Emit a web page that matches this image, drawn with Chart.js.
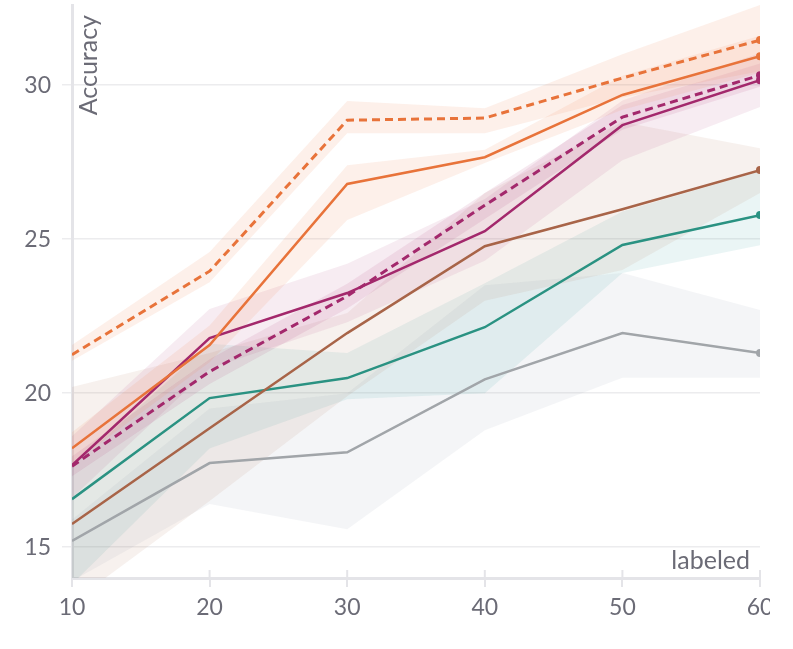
<!DOCTYPE html>
<html>
<head>
<meta charset="utf-8">
<script src="https://cdn.jsdelivr.net/npm/chart.js@4"></script>
<style>
  html, body { margin: 0; padding: 0; background: #fff; }
  #wrap { width: 770px; height: 649px; overflow: hidden; }
  #box { width: 793px; height: 649px; }
</style>
</head>
<body>
<div id="wrap"><div id="box"><canvas id="accChart"></canvas></div></div>
<script>
var labeled = [10, 20, 30, 40, 50, 60];
var yTicks = [15, 20, 25, 30];

// means
var orangeDash = [21.25, 23.96, 28.86, 28.93, 30.23, 31.46];
var orangeSolid = [18.21, 21.56, 26.79, 27.66, 29.68, 30.94];
var magentaSolid = [17.66, 21.79, 23.25, 25.26, 28.70, 30.16];
var magentaDash = [17.63, 20.70, 23.15, 26.10, 28.96, 30.32];
var brownSolid = [15.75, 18.86, 21.95, 24.77, 25.97, 27.24];
var tealSolid = [16.56, 19.84, 20.49, 22.14, 24.81, 25.78];
var graySolid = [15.20, 17.73, 18.08, 20.45, 21.95, 21.30];

// bands (lower / upper)
var orangeDashLo = [21.05, 23.60, 28.44, 28.44, 29.60, 30.45];
var orangeDashHi = [21.56, 24.58, 29.48, 29.25, 31.00, 32.60];
var orangeSolidLo = [17.70, 21.00, 25.62, 27.47, 29.20, 30.40];
var orangeSolidHi = [18.73, 22.20, 27.40, 27.90, 30.30, 31.60];
var magentaSolidLo = [16.60, 20.80, 22.30, 24.30, 27.56, 29.29];
var magentaSolidHi = [18.60, 22.73, 24.20, 26.30, 29.50, 31.04];
var magentaDashLo = [17.30, 20.30, 22.75, 25.65, 28.55, 29.95];
var magentaDashHi = [17.95, 21.10, 23.55, 26.50, 29.35, 30.70];
var brownLo = [13.20, 16.50, 19.90, 23.00, 24.00, 26.50];
var brownHi = [20.20, 21.30, 22.60, 26.50, 28.80, 27.95];
var tealLo = [13.80, 18.20, 19.80, 20.00, 23.90, 24.80];
var tealHi = [17.60, 21.60, 21.30, 23.57, 25.90, 27.20];
var grayLo = [13.90, 16.40, 15.58, 18.80, 20.50, 20.50];
var grayHi = [15.90, 19.50, 20.00, 23.50, 23.90, 22.70];

var tickColor = "#6b6b76";
var axisColor = "#e4e4e8";

function pts(arr) {
  return arr.map(function (v, i) { return { x: labeled[i], y: v }; });
}

function lastDot(ctx) {
  return ctx.dataIndex === labeled.length - 1 ? 4 : 0;
}

function line(data, color, dashed) {
  return {
    data: pts(data),
    borderColor: color,
    backgroundColor: color,
    borderWidth: dashed ? 3 : 2.5,
    borderDash: dashed ? [8, 5] : [],
    pointRadius: lastDot,
    pointHoverRadius: 0,
    pointBorderWidth: 0,
    fill: false,
    tension: 0,
  };
}

var datasets = [
  line(orangeDash, "#e8733a", true),
  line(orangeSolid, "#e8733a", false),
  line(magentaDash, "#a3286c", true),
  line(magentaSolid, "#a3286c", false),
  line(brownSolid, "#a86448", false),
  line(tealSolid, "#2a9282", false),
  line(graySolid, "#a1a5a9", false),
];

function band(lo, hi, fillColor) {
  var loIdx = datasets.length;
  datasets.push({
    data: pts(lo),
    borderWidth: 0,
    pointRadius: 0,
    fill: false,
  });
  datasets.push({
    data: pts(hi),
    borderWidth: 0,
    pointRadius: 0,
    backgroundColor: fillColor,
    fill: { target: loIdx },
  });
}

band(orangeDashLo, orangeDashHi, "rgba(240,140,90,0.13)");
band(orangeSolidLo, orangeSolidHi, "rgba(240,140,90,0.13)");
band(magentaDashLo, magentaDashHi, "rgba(163,40,108,0.10)");
band(magentaSolidLo, magentaSolidHi, "rgba(163,40,108,0.09)");
band(brownLo, brownHi, "rgba(175,120,90,0.10)");
band(tealLo, tealHi, "rgba(60,160,160,0.11)");
band(grayLo, grayHi, "rgba(150,160,178,0.10)");

var axisText = {
  id: "axisText",
  afterDraw: function (chart) {
    var c = chart.ctx;
    var area = chart.chartArea;
    var xs = chart.scales.x;
    c.save();
    // little tick marks poking up into the plot
    c.strokeStyle = axisColor;
    c.lineWidth = 2;
    labeled.slice(1).forEach(function (v) {
      var px = xs.getPixelForValue(v);
      c.beginPath();
      c.moveTo(px, area.bottom - 8);
      c.lineTo(px, area.bottom);
      c.stroke();
    });
    c.fillStyle = tickColor;
    c.font = "25px Lato";
    c.textAlign = "right";
    c.textBaseline = "bottom";
    c.fillText("labeled", area.right - 10, area.bottom - 5);
    c.translate(area.left + 17, area.top + 10);
    c.rotate(-Math.PI / 2);
    c.textAlign = "right";
    c.textBaseline = "middle";
    c.fillText("Accuracy", 0, 0);
    c.restore();
  },
};

var chartAcc = new Chart(document.getElementById("accChart"), {
  type: "line",
  data: { datasets: datasets },
  options: {
    responsive: true,
    maintainAspectRatio: false,
    animation: false,
    layout: { padding: { top: 5, right: 33, left: 0, bottom: 0 } },
    plugins: { legend: { display: false }, tooltip: { enabled: false } },
    scales: {
      x: {
        type: "linear",
        min: 10,
        max: 60,
        afterBuildTicks: function (s) {
          s.ticks = labeled.map(function (v) { return { value: v }; });
        },
        afterFit: function (s) { s.height = 71; },
        grid: {
          drawOnChartArea: false,
          drawTicks: true,
          tickLength: 9,
          color: axisColor,
          lineWidth: 2,
        },
        border: { color: axisColor, width: 3 },
        ticks: { color: tickColor, font: { family: "Lato", size: 23 }, padding: 7, maxRotation: 0 },
      },
      y: {
        type: "linear",
        min: 14,
        max: 32.6,
        afterBuildTicks: function (s) {
          s.ticks = yTicks.map(function (v) { return { value: v }; });
        },
        afterFit: function (s) {
          s.width = 72;
          s.paddingTop = 0;
          s.paddingBottom = 0;
        },
        grid: { color: "#ececee", lineWidth: 1.5, tickLength: 10 },
        border: { color: axisColor, width: 3 },
        ticks: { color: tickColor, font: { family: "Lato", size: 23 }, padding: 11 },
      },
    },
  },
  plugins: [axisText],
});
</script>
</body>
</html>
